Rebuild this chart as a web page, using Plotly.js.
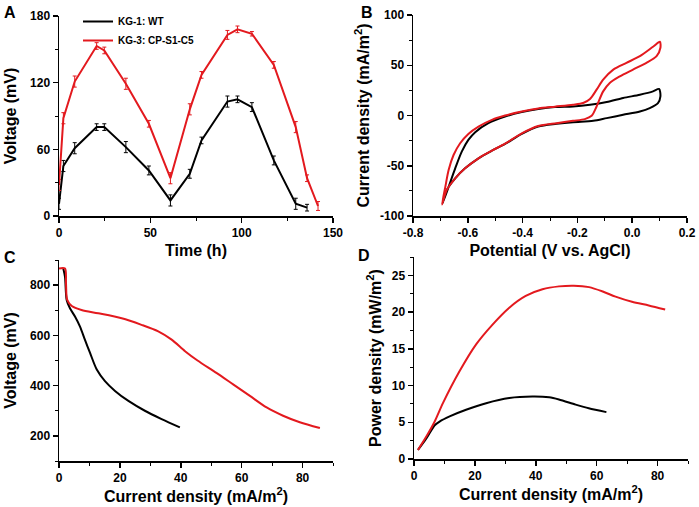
<!DOCTYPE html>
<html><head><meta charset="utf-8">
<script src="https://cdn.plot.ly/plotly-3.0.1.min.js"></script>
<style>html,body{margin:0;padding:0;background:#fff}#chart{width:699px;height:507px}</style>
</head><body><div id="chart"></div>
<script>
// Panel A: voltage vs time
const timeWT = [0, 2.4, 8.6, 20.6, 24.8, 36.6, 49.2, 61, 71.6, 78, 92.2, 97.7, 105.6, 117.6, 129.6, 135.8];
const voltWT = [11, 45, 61, 80, 80, 62, 41, 14, 38, 68, 103, 105, 98, 50, 11, 7.5];
const errWT  = [5, 5, 5, 3, 3, 5, 4, 5, 4, 3, 5, 3, 4, 4, 5, 3];
const timeCP = [0, 2.4, 8.6, 20.6, 24.8, 36.6, 49.2, 61, 71.6, 78, 92.2, 97.7, 105.6, 117.6, 129.6, 135.8, 141.8];
const voltCP = [28, 88, 121, 153, 149, 119, 83, 34, 96, 127, 163, 168, 164, 136, 80, 34, 9];
const errCP  = [5, 5, 5, 3, 3, 5, 3, 5, 5, 3, 4, 3, 2, 3, 5, 3, 4];

// Panel B: cyclic voltammetry (forward scan then reverse scan)
const cvPotWT = [-0.692, -0.670, -0.646, -0.622, -0.598, -0.573, -0.525, -0.464, -0.403, -0.343, -0.282, -0.216, -0.154, -0.093, -0.033, 0.028, 0.076, 0.098, 0.103, 0.094, 0.064, 0.028, -0.033, -0.093, -0.142, -0.216, -0.276, -0.343, -0.403, -0.464, -0.512, -0.561, -0.610, -0.646, -0.677, -0.692];
const cvCurWT = [-87.6, -71, -52.6, -36, -24.3, -16.6, -7.6, -1, 3.4, 6.4, 8.4, 9, 10.7, 13.4, 17.4, 20.7, 24, 26.4, 19, 12.4, 7.4, 4, 0.7, -2.6, -5.3, -6.6, -8.3, -11, -18.3, -28.3, -35, -42.6, -52.6, -62.6, -74.3, -87.6];
const cvPotCP = [-0.694, -0.682, -0.670, -0.652, -0.628, -0.598, -0.561, -0.512, -0.464, -0.403, -0.343, -0.282, -0.216, -0.179, -0.154, -0.130, -0.106, -0.069, -0.021, 0.028, 0.076, 0.101, 0.103, 0.089, 0.052, 0.003, -0.045, -0.082, -0.106, -0.130, -0.148, -0.173, -0.216, -0.276, -0.343, -0.403, -0.464, -0.512, -0.561, -0.610, -0.646, -0.677, -0.694];
const cvCurCP = [-88.5, -71, -54.3, -39.3, -27.6, -18.3, -11, -4.3, 0, 4, 7, 8.8, 10.7, 12.4, 16.4, 25.7, 35.7, 45.7, 52.4, 59, 68.4, 73.4, 67.4, 59, 52.4, 45.7, 39, 32.4, 24, 9, -0.3, -3.6, -5.3, -7.6, -10.5, -17.8, -28, -35, -42.6, -52.6, -62.6, -74.3, -88.5];

// Panel C: polarization curves
const polCurWT = [1.41, 1.97, 2.52, 3.6, 5.25, 6.9, 8.5, 10.2, 12.4, 15.1, 18.4, 22.8, 28.2, 33.7, 39.7];
const polVolWT = [866, 833, 741, 708, 675, 635, 583, 530, 464, 418, 379, 339, 300, 267, 234];
const polCurCP = [0, 1.97, 2.3, 2.7, 4.2, 7.4, 12.9, 20.6, 27.1, 32.6, 37, 41.4, 45.5, 51.7, 57.2, 62.7, 68.2, 73.6, 79.1, 85.7];
const polVolCP = [866, 866, 806, 741, 717, 701, 688, 668, 642, 616, 583, 537, 500, 451, 405, 359, 313, 280, 254, 231];

// Panel D: power density curves
const powCurWT = [1.3, 4.05, 6.8, 8.4, 11.7, 17.1, 23.7, 31.3, 38.9, 44.4, 47.6, 53.1, 57.4, 63.2];
const powDenWT = [1.23, 2.8, 4.6, 5.1, 5.8, 6.7, 7.6, 8.3, 8.5, 8.4, 8.1, 7.4, 6.9, 6.38];
const powCurCP = [1.3, 4.05, 6.8, 9.5, 14.9, 20.4, 25.8, 31.3, 36.7, 42.2, 47.6, 52.5, 57.5, 62, 66.2, 71.6, 77.1, 82.5];
const powDenCP = [1.23, 3.05, 5.1, 7.6, 11.9, 15.6, 18.3, 20.6, 22.2, 23.1, 23.5, 23.6, 23.4, 22.8, 22.1, 21.4, 20.9, 20.35];

const seriesNames = ['KG-1: WT', 'KG-3: CP-S1-C5'];
const bTickVals = [-0.8, -0.6, -0.4, -0.2, 0.0, 0.2];
const bTickText = ['-0.8', '-0.6', '-0.4', '-0.2', '0.0', '0.2'];
const bYTickVals = [-100, -50, 0, 50, 100];
const bYTickText = ['-100', '-50', '0', '50', '100'];

const BLACK = '#000000', RED = '#e3191e';
const FONT = 'Liberation Sans, Arial, sans-serif';

function ln(x, y, color, xa, ya, extra) {
  return Object.assign({x: x, y: y, xaxis: xa, yaxis: ya, type: 'scatter', mode: 'lines',
    line: {color: color, width: 2}, showlegend: false, hoverinfo: 'skip'}, extra || {});
}
const smooth = {line: null};
function sm(x, y, color, xa, ya) {
  return ln(x, y, color, xa, ya, {line: {color: color, width: 2, shape: 'spline', smoothing: 0.8}});
}

const traces = [
  ln(timeWT, voltWT, BLACK, 'x', 'y', {name: seriesNames[0], showlegend: true,
     error_y: {type: 'data', array: errWT, visible: true, color: BLACK, thickness: 1, width: 2}}),
  ln(timeCP, voltCP, RED, 'x', 'y', {name: seriesNames[1], showlegend: true,
     error_y: {type: 'data', array: errCP, visible: true, color: RED, thickness: 1, width: 2}}),
  sm(cvPotWT, cvCurWT, BLACK, 'x2', 'y2'),
  sm(cvPotCP, cvCurCP, RED, 'x2', 'y2'),
  sm(polCurWT, polVolWT, BLACK, 'x3', 'y3'),
  sm(polCurCP, polVolCP, RED, 'x3', 'y3'),
  sm(powCurWT, powDenWT, BLACK, 'x4', 'y4'),
  sm(powCurCP, powDenCP, RED, 'x4', 'y4')
];

const tickFont = {family: FONT, size: 12, color: '#000', weight: 'bold'};
const titleFont = {family: FONT, size: 16, color: '#000', weight: 'bold'};

function ax(domain, range, dtick, minorDtick, title, anchor, extra) {
  return Object.assign({
    domain: domain, range: range, dtick: dtick, anchor: anchor,
    showgrid: false, zeroline: false, showline: true, linecolor: '#000', linewidth: 1.5,
    ticks: 'outside', ticklen: 5, tickwidth: 1.5, tickcolor: '#000',
    minor: {ticks: 'outside', ticklen: 3, tickwidth: 1, tickcolor: '#000', dtick: minorDtick, showgrid: false},
    tickfont: tickFont, title: {text: title, font: titleFont, standoff: 6}, fixedrange: true
  }, extra || {});
}

const W = 699, H = 507;
const dx = (a, b) => [a / W, b / W];
const dy = (top, bottom) => [1 - bottom / H, 1 - top / H];

const layout = {
  width: W, height: H, margin: {l: 0, r: 0, t: 0, b: 0},
  paper_bgcolor: '#fff', plot_bgcolor: 'rgba(0,0,0,0)',
  font: {family: FONT, color: '#000'},
  xaxis: ax(dx(59, 333), [0, 150], 50, 25, 'Time (h)', 'y', {tick0: 0}),
  yaxis: ax(dy(16, 216), [0, 180], 60, 30, 'Voltage (mV)', 'x', {tick0: 0, title: {text: 'Voltage (mV)', font: titleFont, standoff: 9}}),
  xaxis2: ax(dx(413, 687), [-0.8, 0.2], 0.2, 0.1, 'Potential (V vs. AgCl)', 'y2',
    {tickmode: 'array', tickvals: bTickVals, ticktext: bTickText}),
  yaxis2: ax(dy(15, 216), [-100, 100], 50, 25, 'Current density (mA/m<sup>2</sup>)', 'x2',
    {tickmode: 'array', tickvals: bYTickVals, ticktext: bYTickText}),
  xaxis3: ax(dx(59, 333), [0, 90], 20, 10, 'Current density (mA/m<sup>2</sup>)', 'y3', {tick0: 0}),
  yaxis3: ax(dy(260, 461), [100, 900], 200, 100, 'Voltage (mV)', 'x3', {tick0: 0, title: {text: 'Voltage (mV)', font: titleFont, standoff: 9}}),
  xaxis4: ax(dx(414, 688), [0, 90], 20, 10, 'Current density (mA/m<sup>2</sup>)', 'y4', {tick0: 0}),
  yaxis4: ax(dy(257, 459), [0, 27.5], 5, 2.5, 'Power density (mW/m<sup>2</sup>)', 'x4', {tick0: 0}),
  showlegend: true,
  legend: {x: 78 / W, y: 1 - 7 / H, xanchor: 'left', yanchor: 'top', bgcolor: 'rgba(0,0,0,0)',
    font: {family: FONT, size: 10, color: '#000', weight: 'bold'}, tracegroupgap: 0, itemwidth: 30},
  annotations: [
    {text: 'A', x: 10 / W, y: 1 - 12 / H},
    {text: 'B', x: 367 / W, y: 1 - 12 / H},
    {text: 'C', x: 10 / W, y: 1 - 257 / H},
    {text: 'D', x: 364 / W, y: 1 - 255 / H}
  ].map(a => Object.assign(a, {xref: 'paper', yref: 'paper', showarrow: false, xanchor: 'center', yanchor: 'middle',
    font: {family: FONT, size: 16, color: '#000', weight: 'bold'}}))
};

Plotly.newPlot('chart', traces, layout, {displayModeBar: false, staticPlot: true});
</script>
</body></html>
